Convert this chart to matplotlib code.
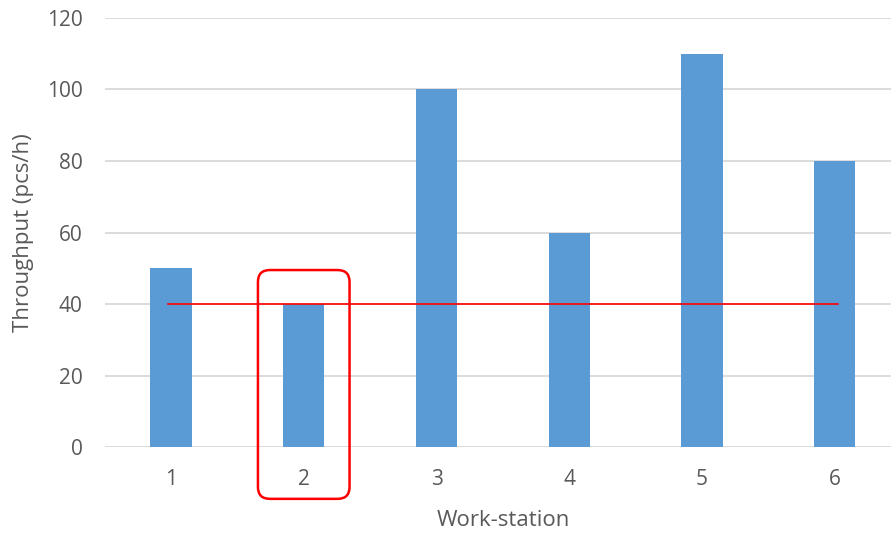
import matplotlib.pyplot as plt
from matplotlib.patches import FancyBboxPatch

stations = [1, 2, 3, 4, 5, 6]
throughput = [50, 40, 100, 60, 110, 80]
target = 40
highlight = 2

plt.rcParams['font.family'] = ['Open Sans', 'DejaVu Sans']

fig = plt.figure(figsize=(8.91, 5.34), dpi=100)
ax = fig.add_axes([0.1174, 0.1629, 0.894, 0.8034])

ax.bar(stations, throughput, width=0.31, color='#5b9bd5', zorder=2)
ax.plot([stations[0] - 0.025, stations[-1] + 0.025], [target, target],
        color='red', lw=1.2, zorder=3)

ax.set_xlim(0.5, 6.5)
ax.set_ylim(0, 120)
ax.set_yticks(range(0, 121, 20))
ax.set_xticks(stations)
ax.grid(axis='y', color='#d9d9d9', lw=1.3, zorder=0)
for s in ax.spines.values():
    s.set_visible(False)
ax.tick_params(length=0, labelsize=15, labelcolor='#595959')
ax.tick_params(axis='y', pad=16)
ax.tick_params(axis='x', pad=16)
ax.set_xlabel('Work-station', fontsize=16, color='#595959', labelpad=14)
ax.set_ylabel('Throughput (pcs/h)', fontsize=16, color='#595959', labelpad=9)

# rounded box around the bottleneck station
box = FancyBboxPatch((highlight - 0.345, -14.5), 0.69, 64,
                     boxstyle='round,pad=0,rounding_size=0.09',
                     mutation_aspect=37, fill=False, edgecolor='red',
                     lw=1.8, clip_on=False, zorder=4)
ax.add_patch(box)

fig.savefig('out.png', dpi=100)
